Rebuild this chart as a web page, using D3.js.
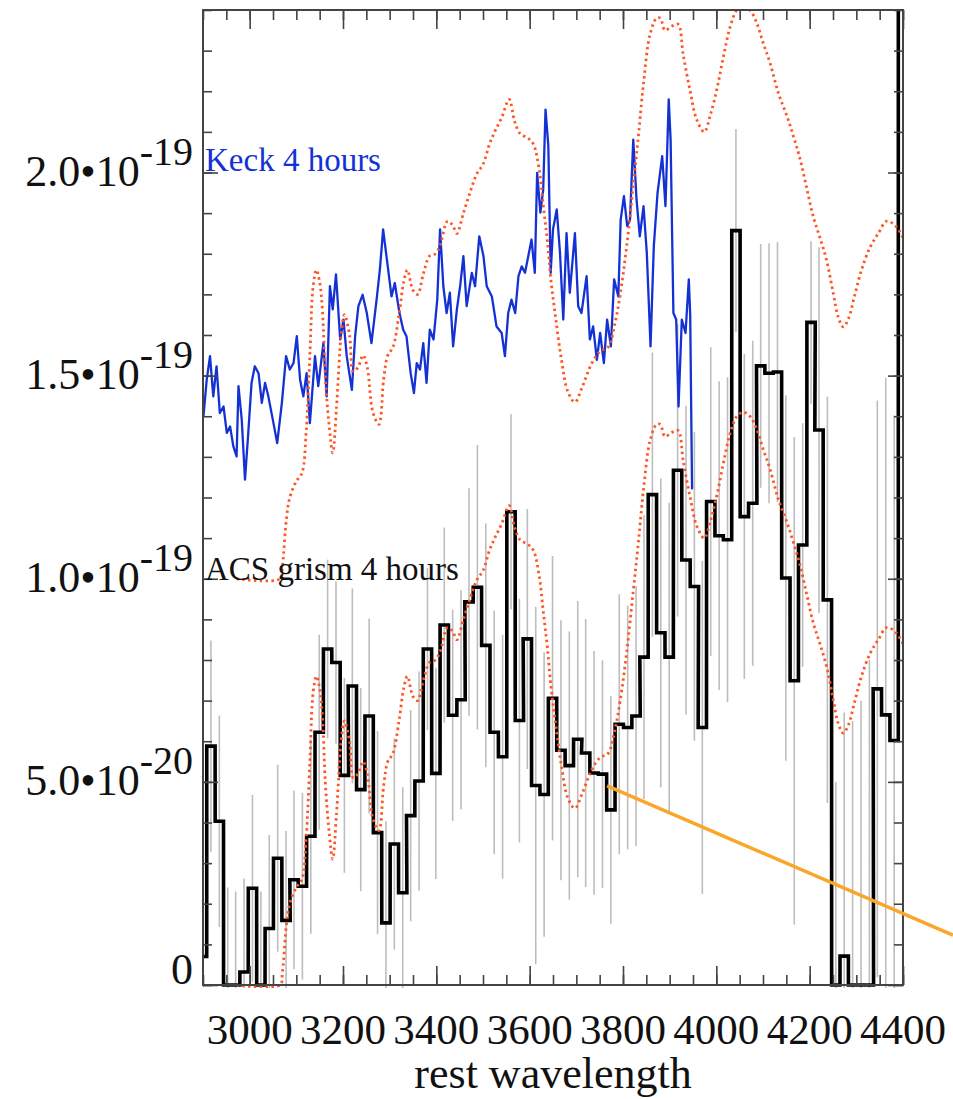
<!DOCTYPE html>
<html>
<head>
<meta charset="utf-8">
<script src="https://cdn.jsdelivr.net/npm/d3@7"></script>
<style>
  body { margin: 0; background: #fff; }
  svg { display: block; font-family: "Liberation Serif", "Times New Roman", serif; }
</style>
</head>
<body>
<svg id="chart" width="953" height="1099"></svg>
<script>
// all fluxes in units of 1e-20

// Keck spectrum, [rest wavelength, flux]
const keckSpectrum = [
  [2901, 14.00], [2908, 14.90], [2915, 15.48], [2922, 14.49], [2929, 15.23], [2936, 14.08],
  [2944, 14.24], [2951, 13.59], [2958, 13.75], [2965, 13.26], [2972, 13.01], [2976, 14.74],
  [2983, 13.92], [2990, 12.44], [2997, 13.59], [3004, 14.82], [3011, 15.23], [3019, 15.06],
  [3026, 14.33], [3033, 14.82], [3040, 14.49], [3051, 13.83], [3059, 13.34], [3069, 14.33],
  [3078, 15.48], [3086, 15.15], [3094, 15.31], [3101, 15.97], [3108, 14.90], [3115, 14.49],
  [3122, 15.06], [3129, 13.83], [3140, 15.48], [3147, 14.74], [3158, 15.80], [3165, 14.49],
  [3172, 17.20], [3178, 16.63], [3185, 17.49], [3194, 15.89], [3201, 16.38], [3208, 15.48],
  [3219, 14.65], [3226, 15.97], [3233, 16.71], [3242, 16.99], [3251, 16.54], [3261, 15.80],
  [3272, 16.87], [3279, 17.61], [3286, 18.60], [3294, 17.86], [3304, 16.95], [3311, 17.28],
  [3321, 16.54], [3329, 16.13], [3336, 15.97], [3345, 15.06], [3352, 14.57], [3358, 15.31],
  [3365, 15.15], [3372, 15.80], [3379, 14.82], [3386, 16.13], [3394, 15.89], [3402, 16.87],
  [3408, 18.60], [3415, 17.20], [3422, 16.54], [3429, 17.04], [3436, 15.72], [3444, 16.63],
  [3451, 17.20], [3458, 17.94], [3465, 16.71], [3476, 17.53], [3483, 17.20], [3492, 18.43],
  [3501, 17.94], [3508, 17.20], [3519, 16.95], [3529, 16.21], [3540, 16.05], [3547, 15.48],
  [3554, 16.54], [3561, 16.87], [3569, 16.54], [3576, 17.45], [3583, 17.69], [3590, 17.53],
  [3597, 17.94], [3604, 18.35], [3611, 17.53], [3616, 19.99], [3623, 19.01], [3629, 19.58],
  [3634, 21.55], [3640, 20.65], [3645, 17.53], [3650, 18.60], [3658, 19.09], [3665, 18.02],
  [3672, 16.38], [3679, 18.51], [3686, 17.04], [3697, 18.51], [3704, 16.71], [3711, 16.54],
  [3722, 17.45], [3729, 15.89], [3736, 16.21], [3744, 15.39], [3751, 16.05], [3759, 15.31],
  [3766, 16.38], [3774, 15.72], [3781, 17.37], [3790, 16.95], [3795, 18.84], [3802, 19.42],
  [3809, 18.68], [3815, 18.84], [3822, 20.81], [3829, 19.33], [3836, 18.43], [3844, 19.17],
  [3851, 18.02], [3859, 15.72], [3866, 18.18], [3874, 19.50], [3884, 20.40], [3891, 19.17],
  [3898, 21.80], [3902, 20.81], [3908, 16.54], [3914, 16.38], [3919, 14.24], [3926, 16.38],
  [3934, 16.05], [3941, 17.37], [3944, 16.50], [3948, 12.20]
];

// smooth model spectrum scaled to the ACS data, [rest wavelength, flux]
const modelSpectrum = [
  [2972, 0], [3065, 0], [3070, 0.3], [3079, 1.5], [3086, 2.0], [3100, 2.4], [3112, 2.6],
  [3121, 3.6], [3129, 5.5], [3136, 7.2], [3143, 7.6], [3150, 7.3], [3156, 6.6], [3162, 5.0],
  [3170, 3.8], [3178, 3.1], [3186, 4.2], [3196, 6.0], [3203, 6.5], [3214, 6.0], [3222, 5.1],
  [3232, 5.2], [3243, 5.5], [3252, 5.2], [3264, 4.1], [3277, 3.8], [3287, 4.9], [3296, 5.5],
  [3307, 5.7], [3320, 6.5], [3330, 7.3], [3338, 7.6], [3350, 7.1], [3360, 7.0], [3372, 7.5],
  [3386, 7.95], [3398, 8.0], [3408, 8.2], [3424, 8.8], [3435, 8.7], [3444, 8.5], [3458, 9.0],
  [3472, 9.5], [3486, 9.95], [3500, 10.2], [3514, 10.7], [3525, 11.0], [3540, 11.35],
  [3556, 11.8], [3568, 11.25], [3580, 10.95], [3596, 10.85], [3608, 10.7], [3620, 10.1],
  [3630, 9.1], [3638, 8.3], [3646, 7.3], [3656, 6.4], [3668, 5.4], [3682, 4.6], [3697, 4.35],
  [3712, 4.7], [3733, 5.3], [3751, 5.6], [3768, 5.7], [3783, 6.3], [3794, 7.0], [3808, 8.2],
  [3822, 9.7], [3833, 10.9], [3844, 12.2], [3858, 13.4], [3872, 13.8], [3880, 13.8],
  [3890, 13.5], [3904, 13.6], [3918, 13.65], [3929, 12.9], [3944, 12.0], [3958, 11.3],
  [3974, 11.0], [3988, 11.45], [4003, 12.15], [4016, 12.9], [4030, 13.6], [4044, 14.0],
  [4058, 14.1], [4072, 14.0], [4086, 13.7], [4100, 13.2], [4115, 12.7], [4133, 11.95],
  [4151, 11.4], [4165, 10.9], [4179, 10.35], [4194, 9.6], [4208, 8.9], [4222, 8.4],
  [4236, 7.85], [4251, 7.0], [4261, 6.45], [4272, 6.2], [4283, 6.4], [4297, 7.0],
  [4311, 7.6], [4329, 8.15], [4347, 8.5], [4365, 8.8], [4383, 8.7], [4400, 8.4]
];
// the model is drawn twice: on the ACS data and shifted up by 1e-19 on the Keck data
const modelOffsets = [0, 10];

// ACS grism binned spectrum: bin centres, flux, 1-sigma errors
const acsBinWidth = 17.86;
const acsWave = [
  2899, 2917, 2935, 2953, 2970, 2988, 3006, 3024, 3042, 3060, 3078, 3095, 3113, 3131, 3149,
  3167, 3185, 3203, 3220, 3238, 3256, 3274, 3292, 3310, 3328, 3345, 3363, 3381, 3399, 3417,
  3435, 3453, 3470, 3488, 3506, 3524, 3542, 3560, 3578, 3595, 3613, 3631, 3649, 3667, 3685,
  3703, 3720, 3738, 3756, 3774, 3792, 3810, 3828, 3845, 3863, 3881, 3899, 3917, 3935, 3953,
  3970, 3988, 4006, 4024, 4042, 4060, 4078, 4095, 4113, 4131, 4149, 4167, 4185, 4203, 4220,
  4238, 4256, 4274, 4292, 4310, 4328, 4345, 4363, 4381, 4399
];
const acsFlux = [
  0.7, 5.88, 4.03, 0, 0, 0.32, 2.38, 0, 1.39, 3.12, 1.59, 2.59, 2.43, 3.66, 6.22,
  8.27, 7.94, 5.16, 7.36, 4.81, 6.62, 3.75, 1.53, 3.47, 2.27, 4.17, 5.02, 8.27, 5.21, 8.86,
  6.64, 7.02, 9.43, 9.79, 8.36, 6.22, 5.62, 11.65, 6.51, 8.52, 4.91, 4.69, 7.06, 5.78, 5.40,
  6.05, 5.71, 5.22, 5.19, 4.31, 6.42, 6.34, 6.62, 8.07, 12.07, 8.67, 8.07, 12.67, 10.46, 9.81,
  6.34, 11.90, 11.06, 10.96, 18.57, 11.53, 11.86, 15.24, 15.06, 15.09, 10.02, 7.49, 10.83, 16.31, 13.66,
  9.48, 0, 0.71, 0, 0, 0, 7.29, 6.65, 6.02, 60
];
const acsErr = [
  2.4, 2.6, 2.6, 2.4, 2.3, 2.3, 2.3, 2.3, 2.3, 2.3, 2.2, 2.2, 2.3, 2.4, 2.4,
  2.2, 2.0, 2.4, 2.4, 2.5, 2.4, 2.5, 2.5, 2.6, 2.6, 2.6, 2.7, 2.0, 2.6, 2.4,
  2.6, 2.7, 2.8, 3.5, 3.0, 3.0, 3.0, 2.4, 3.0, 3.2, 4.4, 3.5, 3.5, 3.2, 3.3,
  3.4, 3.3, 3.0, 2.8, 2.8, 3.2, 3.0, 3.2, 3.5, 3.5, 3.8, 3.8, 3.6, 3.8, 3.8,
  4.1, 3.8, 3.8, 4.0, 2.5, 4.0, 4.0, 3.0, 3.2, 3.2, 4.5, 6.0, 3.0, 2.0, 4.5,
  5.0, 5.0, 6.0, 6.5, 7.0, 8.0, 7.1, 8.3, 8.0, 6.0
];

// axes
const xMajorTicks = [3000, 3200, 3400, 3600, 3800, 4000, 4200, 4400];
const xTickLabels = ["3000", "3200", "3400", "3600", "3800", "4000", "4200", "4400"];
const yMajorTicks = [0, 5, 10, 15, 20];
const yTickMantissa = ["0", "5.0\u202210", "1.0\u202210", "1.5\u202210", "2.0\u202210"];
const yTickExponent = ["", "-20", "-19", "-19", "-19"];
const xTitle = "rest wavelength";
const seriesLabels = ["Keck 4 hours", "ACS grism 4 hours"];

// orange pointer from the ACS histogram towards the right edge
const pointerLine = [[3766, 4.9], [4507, 1.23]];

const svg = d3.select("#chart");
const W = 953, H = 1099;
const plot = { left: 203, right: 903, top: 10, bottom: 985 };

const x = d3.scaleLinear().domain([2900, 4400]).range([plot.left, plot.right]);
const y = d3.scaleLinear().domain([0, 24]).range([plot.bottom, plot.top]);

svg.append("rect").attr("width", W).attr("height", H).attr("fill", "#fff");

svg.append("clipPath").attr("id", "clip")
  .append("rect")
  .attr("x", plot.left).attr("y", plot.top)
  .attr("width", plot.right - plot.left)
  .attr("height", plot.bottom - plot.top + 3);

const g = svg.append("g").attr("clip-path", "url(#clip)");

// error bars
g.append("g")
  .selectAll("line")
  .data(acsWave)
  .join("line")
  .attr("x1", d => x(d)).attr("x2", d => x(d))
  .attr("y1", (d, i) => y(acsFlux[i] - acsErr[i]))
  .attr("y2", (d, i) => y(acsFlux[i] + acsErr[i]))
  .attr("stroke", "#bdbdbd")
  .attr("stroke-width", 1.6);

// histogram outline
const steps = [];
acsWave.forEach((w, i) => {
  steps.push([w - acsBinWidth / 2, acsFlux[i]]);
  steps.push([w + acsBinWidth / 2, acsFlux[i]]);
});
g.append("path")
  .datum(steps)
  .attr("fill", "none")
  .attr("stroke", "#000")
  .attr("stroke-width", 3.6)
  .attr("stroke-linejoin", "miter")
  .attr("d", d3.line().x(d => x(d[0])).y(d => y(d[1])));

// Keck spectrum
g.append("path")
  .datum(keckSpectrum)
  .attr("fill", "none")
  .attr("stroke", "#1432d4")
  .attr("stroke-width", 2.3)
  .attr("stroke-linejoin", "round")
  .attr("d", d3.line().x(d => x(d[0])).y(d => y(d[1])));

// model, dotted
modelOffsets.forEach(off => {
  g.append("path")
    .datum(modelSpectrum)
    .attr("fill", "none")
    .attr("stroke", "#ff5424")
    .attr("stroke-width", 2.8)
    .attr("stroke-dasharray", "2.4,3.4")
    .attr("d", d3.line().curve(d3.curveCatmullRom)
      .x(d => x(d[0])).y(d => y(d[1] + off)));
});

// ticks, all pointing inward
const tickColor = "#444";
function ticks(axis, transform) {
  const a = svg.append("g").attr("transform", transform).call(axis);
  a.select(".domain").remove();
  a.selectAll("text").remove();
  a.selectAll("line").attr("stroke", tickColor).attr("stroke-width", 1.6);
}
const xMinor = d3.range(2900, 4401, 50);
const yMinor = d3.range(0, 24.01, 1);
ticks(d3.axisBottom(x).tickValues(xMinor).tickSize(-10), `translate(0,${plot.bottom})`);
ticks(d3.axisBottom(x).tickValues(xMajorTicks).tickSize(-19), `translate(0,${plot.bottom})`);
ticks(d3.axisTop(x).tickValues(xMinor).tickSize(-10), `translate(0,${plot.top})`);
ticks(d3.axisTop(x).tickValues(xMajorTicks).tickSize(-19), `translate(0,${plot.top})`);
ticks(d3.axisLeft(y).tickValues(yMinor).tickSize(-9), `translate(${plot.left},0)`);
ticks(d3.axisLeft(y).tickValues(yMajorTicks).tickSize(-15), `translate(${plot.left},0)`);
ticks(d3.axisRight(y).tickValues(yMinor).tickSize(-9), `translate(${plot.right},0)`);
ticks(d3.axisRight(y).tickValues(yMajorTicks).tickSize(-15), `translate(${plot.right},0)`);

svg.append("rect")
  .attr("x", plot.left).attr("y", plot.top)
  .attr("width", plot.right - plot.left)
  .attr("height", plot.bottom - plot.top)
  .attr("fill", "none")
  .attr("stroke", tickColor)
  .attr("stroke-width", 2);

// tick labels
svg.append("g")
  .selectAll("text")
  .data(xMajorTicks)
  .join("text")
  .attr("x", d => x(d))
  .attr("y", 1044)
  .attr("text-anchor", "middle")
  .attr("font-size", 43)
  .attr("fill", "#111")
  .text((d, i) => xTickLabels[i]);

const yl = svg.append("g")
  .selectAll("text")
  .data(yMajorTicks)
  .join("text")
  .attr("x", 193)
  .attr("y", d => y(d) + (d === 0 ? -1 : 13))
  .attr("text-anchor", "end")
  .attr("fill", "#111");
yl.append("tspan")
  .attr("font-size", 44)
  .text((d, i) => yTickMantissa[i]);
yl.append("tspan")
  .attr("font-size", 40)
  .attr("dy", -21)
  .text((d, i) => yTickExponent[i]);

svg.append("text")
  .attr("x", (plot.left + plot.right) / 2)
  .attr("y", 1088)
  .attr("text-anchor", "middle")
  .attr("font-size", 44)
  .attr("fill", "#111")
  .text(xTitle);

// series labels
svg.append("text")
  .attr("x", 205).attr("y", 171)
  .attr("font-size", 33)
  .attr("fill", "#1432d4")
  .text(seriesLabels[0]);
svg.append("text")
  .attr("x", 205).attr("y", 580)
  .attr("font-size", 33)
  .attr("fill", "#111")
  .text(seriesLabels[1]);

// pointer
svg.append("line")
  .attr("x1", x(pointerLine[0][0])).attr("y1", y(pointerLine[0][1]))
  .attr("x2", x(pointerLine[1][0])).attr("y2", y(pointerLine[1][1]))
  .attr("stroke", "#f9a72b")
  .attr("stroke-width", 3.5);
</script>
</body>
</html>
